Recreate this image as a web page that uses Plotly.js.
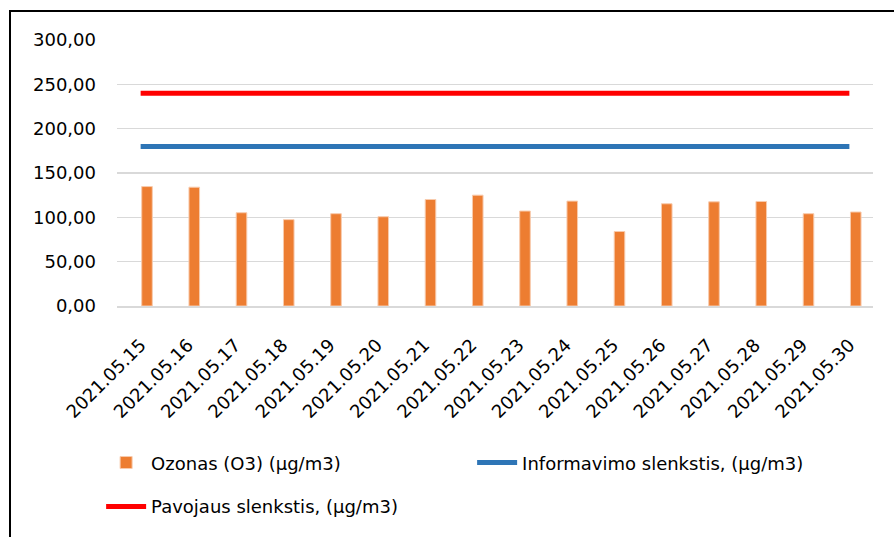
<!DOCTYPE html>
<html>
<head>
<meta charset="utf-8">
<script src="https://cdn.plot.ly/plotly-3.0.1.min.js"></script>
<style>
  html, body { margin: 0; padding: 0; background: #fff; }
  #wrap { position: relative; width: 894px; height: 537px; overflow: hidden; }
  #frame { position: absolute; left: 9px; top: 10px; width: 900px; height: 540px;
           border-left: 2px solid #000; border-top: 2px solid #000; box-sizing: border-box; }
  #chart { position: absolute; left: 0; top: 0; width: 894px; height: 537px; }
</style>
</head>
<body>
<div id="wrap">
  <div id="frame"></div>
  <div id="chart"></div>
</div>
<script>
const dates = ["2021.05.15","2021.05.16","2021.05.17","2021.05.18","2021.05.19","2021.05.20","2021.05.21","2021.05.22",
               "2021.05.23","2021.05.24","2021.05.25","2021.05.26","2021.05.27","2021.05.28","2021.05.29","2021.05.30"];
const ozone = [134.7, 134.0, 105.2, 97.4, 104.1, 100.7, 120.1, 125.0, 107.1, 118.3, 84.0, 115.3, 117.5, 117.9, 104.1, 106.0];
const infoThreshold = [180,180,180,180,180,180,180,180,180,180,180,180,180,180,180,180];
const dangerThreshold = [240,240,240,240,240,240,240,240,240,240,240,240,240,240,240,240];
const yTicks = [0, 50, 100, 150, 200, 250, 300];

const FONT = "DejaVu Sans";

const traces = [
  {
    type: "bar", x: dates, y: ozone, name: "Ozonas (O3) (µg/m3)",
    width: 0.224, offset: 0.023,
    marker: { color: "#ED7D31", line: { color: "#F8CBAD", width: 1 } },
    legend: "legend"
  },
  {
    type: "scatter", mode: "lines", x: dates, y: infoThreshold, name: "Informavimo slenkstis, (µg/m3)",
    line: { color: "#2E75B6", width: 5 }, legend: "legend"
  },
  {
    type: "scatter", mode: "lines", x: dates, y: dangerThreshold, name: "Pavojaus slenkstis, (µg/m3)",
    line: { color: "#FF0000", width: 5 }, legend: "legend2"
  }
];

const layout = {
  width: 894, height: 537,
  margin: { l: 117, r: 21, t: 40, b: 229 },
  paper_bgcolor: "rgba(0,0,0,0)",
  plot_bgcolor: "rgba(0,0,0,0)",
  separators: ", ",
  font: { family: FONT, size: 18, color: "#000" },
  xaxis: {
    type: "category", range: [-0.5, 15.5],
    tickangle: -45, showgrid: false, zeroline: false,
    showline: true, linecolor: "#D9D9D9", linewidth: 1.5,
    ticks: "", ticklabelstandoff: 20,
    tickfont: { family: FONT, size: 18, color: "#000" }
  },
  yaxis: {
    range: [0, 300], tickvals: yTicks, tickformat: ".2f",
    showgrid: true, gridcolor: "#D9D9D9", gridwidth: 1.5,
    zeroline: false, showline: false, ticks: "", ticklabelstandoff: 20,
    tickfont: { family: FONT, size: 18, color: "#000" }
  },
  showlegend: true,
  legend: {
    orientation: "h", x: -0.021, xanchor: "left", y: -0.52, yanchor: "top",
    entrywidth: 316, font: { family: FONT, size: 18, color: "#000" },
    bgcolor: "rgba(0,0,0,0)", itemwidth: 40
  },
  legend2: {
    orientation: "h", x: -0.021, xanchor: "left", y: -0.685, yanchor: "top",
    font: { family: FONT, size: 18, color: "#000" },
    bgcolor: "rgba(0,0,0,0)", itemwidth: 40
  }
};

Plotly.newPlot("chart", traces, layout, { displayModeBar: false, staticPlot: true });
</script>
</body>
</html>
